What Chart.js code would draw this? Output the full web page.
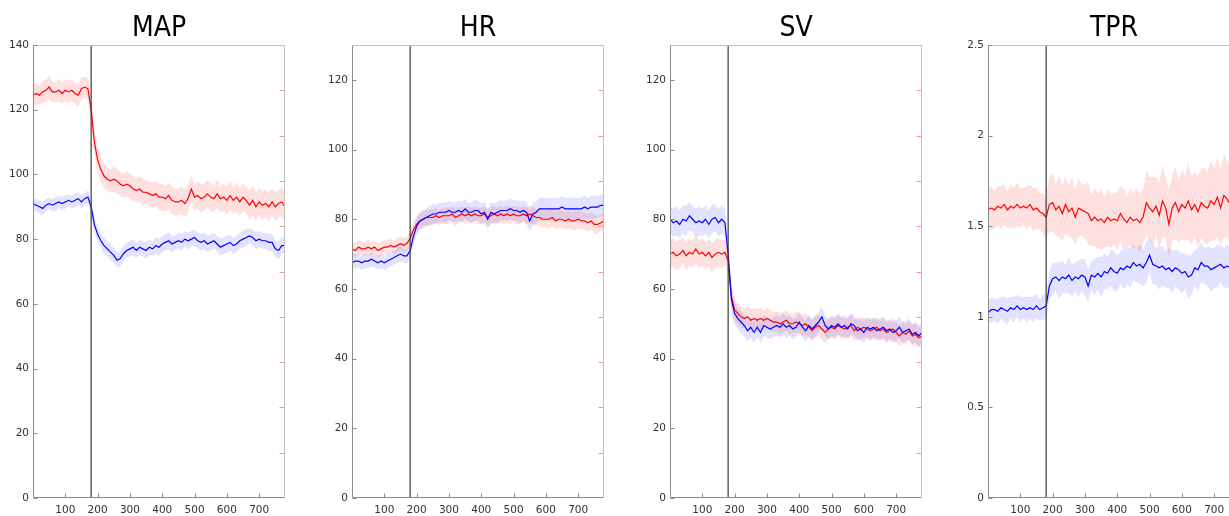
<!DOCTYPE html>
<html>
<head>
<meta charset="utf-8">
<script src="https://cdn.jsdelivr.net/npm/chart.js@4.4.1/dist/chart.umd.min.js"></script>
<style>
html, body { margin:0; padding:0; background:#fff; overflow:hidden; width:1229px; height:516px; position:relative; }
canvas { position:absolute; top:0; }
</style>
</head>
<body>
<canvas id="chartMAP" width="300" height="516" style="left:0px"></canvas>
<canvas id="chartHR" width="300" height="516" style="left:319px"></canvas>
<canvas id="chartSV" width="300" height="516" style="left:637px"></canvas>
<canvas id="chartTPR" width="300" height="516" style="left:955px"></canvas>
<script>
// time axis (s), one sample every 10
const time = [
  0,10,20,30,40,50,60,70,80,90,
  100,110,120,130,140,150,160,170,180,190,
  200,210,220,230,240,250,260,270,280,290,
  300,310,320,330,340,350,360,370,380,390,
  400,410,420,430,440,450,460,470,480,490,
  500,510,520,530,540,550,560,570,580,590,
  600,610,620,630,640,650,660,670,680,690,
  700,710,720,730,740,750,760,770,780
];
const stimTime = 180;
const xRange = [0, 780];
const xTicks = [100,200,300,400,500,600,700];

// MAP
const mapRed = [
  124.5,125,124.5,125.5,126,127,125.5,125.5,126,125,
  126,125.5,126,125,124.5,126.5,127,126.5,120,110,
  104.5,101.5,99.5,98.5,98,98.5,98,97,96.5,97,
  96.5,95.5,95,95.5,94.5,94.5,94,93.5,94,93,
  93,92.5,93.5,92,91.5,91.5,92,91,92.5,95.5,
  93,93.5,92.5,93,94,93,92.5,94,92.5,93,
  92,93.5,92,93,91.5,93,92,90.5,92,90,
  91.5,90.5,91,90,91.5,90,91,91.5,90
];
const mapRedSd = [
  3.2,3.4,3.0,3.3,3.5,3.6,3.2,3.1,3.4,3.3,
  3.2,3.5,3.4,3.3,3.6,3.5,3.3,3.4,3.8,4.0,
  3.9,3.7,3.8,3.6,3.7,3.9,3.8,3.6,3.7,3.9,
  4.0,3.8,3.7,3.9,4.1,3.8,3.9,4.0,3.8,4.1,
  4.2,3.9,4.0,4.3,4.1,4.0,4.4,4.2,4.5,4.1,
  4.0,4.2,4.3,4.1,4.2,4.4,4.0,4.3,4.1,4.2,
  4.4,4.3,4.1,4.5,4.2,4.3,4.1,4.4,4.6,4.3,
  4.2,4.5,4.3,4.4,4.2,4.5,4.3,4.4,4.5
];
const mapBlue = [
  91,90.5,90,89.5,90.5,91,90.5,91,91.5,91,
  91.5,92,91.5,92,92.5,91.5,92.5,93,90,84.5,
  81.5,79.5,78,77,76,75,73.5,74,75.5,76.5,
  77,77.5,76.5,77.5,77,76.5,77.5,77,78,77.5,
  78.5,79,79.5,78.5,79,79.5,79,80,79.5,80,
  80.5,79.5,79,79.5,78.5,79,79.5,78.5,77.5,78,
  78.5,79,78,78.5,79.5,80,80.5,81,80.5,79.5,
  80,79.5,79.5,79,79,77,76.5,78,78
];
const mapBlueSd = [
  1.8,2.0,1.9,2.1,2.0,1.8,2.0,2.2,1.9,2.0,
  2.1,1.9,2.0,2.2,2.0,2.1,1.9,2.0,2.3,2.4,
  2.3,2.2,2.4,2.3,2.5,2.4,2.3,2.5,2.4,2.2,
  2.4,2.6,2.3,2.5,2.4,2.6,2.5,2.3,2.4,2.6,
  2.5,2.4,2.6,2.5,2.3,2.5,2.7,2.4,2.6,2.5,
  2.4,2.6,2.5,2.7,2.4,2.6,2.5,2.4,2.6,2.5,
  2.7,2.5,2.4,2.6,2.5,2.7,2.6,2.4,2.5,2.7,
  2.6,2.4,2.5,2.7,2.6,2.5,2.7,2.6,2.5
];

// HR
const hrRed = [
  71.5,71,72,71.5,71.5,72,71.5,72,71,71.5,
  72,72,72.5,72,72.5,73,72.5,73,74.5,77,
  78.5,79.5,80,80.5,80.5,80.5,81,80.5,81,81,
  81,81.5,80.5,81,81.5,81,81.5,81,81.5,81,
  81,81.5,80.5,81,81.5,81,81.5,81,81.5,81,
  81.5,81,81,81.5,81,81.5,81,80.5,80.5,80,
  80,80,80.5,79.5,80,80,79.5,80,79.5,79.5,
  80,79.5,79.5,79,79.5,78.5,78.5,79,79.5
];
const hrRedSd = [
  1.9,2.0,2.1,1.9,2.0,2.2,2.0,1.9,2.1,2.0,
  2.0,2.1,1.9,2.0,2.2,2.0,2.1,2.0,2.2,2.3,
  2.2,2.3,2.1,2.2,2.4,2.2,2.3,2.1,2.2,2.4,
  2.3,2.2,2.4,2.3,2.1,2.2,2.4,2.3,2.2,2.3,
  2.4,2.2,2.3,2.5,2.3,2.2,2.4,2.3,2.5,2.4,
  2.3,2.5,2.4,2.3,2.5,2.4,2.6,2.4,2.5,2.3,
  2.4,2.6,2.5,2.4,2.6,2.5,2.4,2.6,2.5,2.7,
  2.5,2.6,2.4,2.6,2.5,2.7,2.6,2.5,2.6
];
const hrBlue = [
  67.5,68,68,67.5,68,68,68.5,68,67.5,68,
  67.5,68,68.5,69,69.5,70,69.5,69.5,71,75,
  78,79.5,80,80.5,81,81.5,81.5,82,82,82,
  82.5,82,82,82.5,82,83,82,82,82.5,82.5,
  81.5,82,80,82,81.5,82,82.5,82.5,82.5,83,
  82.5,82.5,82,82.5,82,79.5,81.5,82,83,83,
  83,83,83,83,83,83.5,83,83,83,83,
  83,83,83.5,83,83.5,83.5,83.5,84,84
];
const hrBlueSd = [
  2.0,2.1,1.9,2.0,2.2,2.0,2.1,1.9,2.0,2.1,
  2.0,2.2,2.1,2.0,2.1,2.2,2.0,2.1,2.3,2.5,
  2.6,2.5,2.7,2.6,2.8,2.7,2.6,2.8,2.7,2.9,
  2.8,2.7,2.9,2.8,3.0,2.8,2.7,2.9,3.0,2.8,
  2.9,3.1,2.8,3.0,2.9,3.1,3.0,2.8,3.0,3.1,
  2.9,3.0,3.2,2.9,3.1,3.0,3.2,3.0,3.1,3.3,
  3.1,3.0,3.2,3.1,3.3,3.0,3.2,3.1,3.3,3.2,
  3.0,3.2,3.3,3.1,3.2,3.4,3.1,3.3,3.2
];

// SV
const svRed = [
  70,70.5,69.5,70,71,69.5,70.5,70,71.5,70,
  70.5,69.5,70.5,69,70,70.5,70,70.5,68,58,
  54,53,52,51.5,52,51,51.5,51,51.5,51,
  51.5,51,50.5,50.5,50,50.5,51,50,50,50.5,
  50,49.5,50,49,48,49,49.5,48.5,47.5,48.5,
  49,48.5,49.5,49,48.5,49,49.5,48,49,48.5,
  49,48.5,48,48.5,49,48,48.5,47.5,48,48.5,
  47.5,46.5,47.5,47,48,46.5,47,46,46.5
];
const svRedSd = [
  3.9,4.1,4.0,4.2,3.8,4.0,4.1,3.9,4.2,4.0,
  4.1,3.9,4.0,4.2,3.9,4.1,4.0,3.8,3.6,3.4,
  3.2,3.0,3.1,2.9,3.0,3.2,2.9,3.1,3.0,2.8,
  3.0,3.1,2.9,3.0,3.2,2.9,3.0,3.1,2.8,3.0,
  2.9,3.1,3.0,2.8,3.0,3.1,2.9,3.0,3.2,2.9,
  3.0,2.9,3.1,3.0,2.8,3.0,3.1,2.9,3.0,3.1,
  2.9,3.0,3.1,2.9,3.0,2.8,3.1,3.0,2.9,3.1,
  3.0,2.9,3.1,3.0,2.8,3.1,3.0,2.9,3.0
];
const svBlue = [
  80,79,79.5,78.5,80,79.5,81,80,79,79.5,
  79,80,78.5,80,80.5,79,80,79,70,57,
  53,51.5,50.5,49.5,48,49,47.5,49,47.5,49.5,
  49,48.5,49,49.5,49,50,49,49.5,48.5,49,
  50.5,49,48,49.5,48.5,49.5,50.5,52,49.5,48.5,
  49.5,49,50,49,49.5,48.5,50,49.5,48,48.5,
  47.5,49,48.5,49,48,48.5,49,48,48.5,47.5,
  48,49,47.5,48,48.5,47,47.5,46.5,47.5
];
const svBlueSd = [
  3.8,4.0,4.2,3.9,4.1,4.3,4.0,3.8,4.1,4.2,
  3.9,4.1,4.0,4.2,3.8,4.0,4.1,3.9,3.8,3.5,
  3.3,3.1,3.0,3.2,2.9,3.1,3.0,2.8,3.0,3.1,
  2.9,3.0,2.8,3.1,2.9,3.0,3.2,2.9,3.0,2.8,
  3.1,2.9,3.0,3.2,2.9,3.1,3.0,2.8,3.0,3.1,
  2.9,3.0,3.1,2.8,3.0,2.9,3.1,3.0,2.8,3.0,
  3.1,2.9,3.0,2.8,3.0,3.1,2.9,3.0,2.8,3.0,
  2.9,3.1,3.0,2.8,3.0,2.9,3.1,3.0,2.9
];

// TPR
const tprRed = [
  1.59,1.6,1.59,1.61,1.6,1.62,1.59,1.61,1.6,1.62,
  1.6,1.61,1.6,1.62,1.59,1.6,1.58,1.57,1.55,1.62,
  1.63,1.59,1.61,1.57,1.62,1.58,1.6,1.55,1.6,1.59,
  1.58,1.57,1.53,1.55,1.53,1.54,1.52,1.55,1.53,1.54,
  1.53,1.57,1.54,1.52,1.55,1.53,1.54,1.52,1.55,1.63,
  1.6,1.58,1.61,1.56,1.64,1.6,1.51,1.6,1.63,1.58,
  1.62,1.6,1.64,1.59,1.62,1.58,1.63,1.61,1.6,1.64,
  1.62,1.66,1.6,1.67,1.65,1.62,1.64,1.61,1.63
];
const tprRedSd = [
  0.11,0.12,0.10,0.11,0.12,0.11,0.10,0.12,0.11,0.12,
  0.11,0.10,0.12,0.11,0.12,0.11,0.10,0.11,0.12,0.15,
  0.16,0.14,0.17,0.15,0.16,0.14,0.17,0.15,0.16,0.14,
  0.15,0.17,0.14,0.16,0.15,0.17,0.14,0.16,0.15,0.14,
  0.16,0.15,0.17,0.14,0.16,0.15,0.17,0.16,0.15,0.18,
  0.17,0.19,0.16,0.18,0.20,0.17,0.19,0.18,0.20,0.17,
  0.19,0.18,0.21,0.19,0.18,0.20,0.19,0.21,0.20,0.22,
  0.20,0.22,0.21,0.23,0.21,0.22,0.23,0.21,0.22
];
const tprBlue = [
  1.02,1.04,1.04,1.03,1.05,1.04,1.03,1.05,1.04,1.06,
  1.04,1.05,1.04,1.05,1.04,1.06,1.04,1.05,1.06,1.17,
  1.21,1.22,1.2,1.22,1.21,1.23,1.2,1.22,1.21,1.23,
  1.22,1.17,1.23,1.22,1.24,1.22,1.25,1.24,1.27,1.25,
  1.24,1.27,1.26,1.28,1.27,1.3,1.28,1.29,1.27,1.3,
  1.34,1.29,1.28,1.27,1.28,1.26,1.27,1.25,1.27,1.26,
  1.24,1.25,1.22,1.23,1.27,1.26,1.3,1.28,1.28,1.26,
  1.27,1.28,1.29,1.27,1.28,1.27,1.28,1.27,1.28
];
const tprBlueSd = [
  0.06,0.07,0.06,0.07,0.06,0.07,0.07,0.06,0.07,0.06,
  0.07,0.06,0.07,0.06,0.07,0.07,0.06,0.07,0.07,0.08,
  0.09,0.08,0.10,0.09,0.08,0.10,0.09,0.08,0.10,0.09,
  0.10,0.09,0.08,0.10,0.09,0.11,0.10,0.09,0.10,0.11,
  0.10,0.09,0.11,0.10,0.11,0.10,0.09,0.11,0.10,0.11,
  0.10,0.11,0.10,0.12,0.11,0.10,0.11,0.12,0.10,0.11,
  0.11,0.10,0.12,0.11,0.10,0.12,0.11,0.10,0.11,0.12,
  0.11,0.12,0.10,0.11,0.12,0.11,0.10,0.12,0.11
];

const mapTicks = [0,20,40,60,80,100,120,140];
const hrTicks = [0,20,40,60,80,100,120];
const svTicks = [0,20,40,60,80,100,120];
const tprTicks = [0,0.5,1,1.5,2,2.5];

const titleFont = "'Liberation Sans Narrow', 'DejaVu Sans Condensed', 'Liberation Sans', sans-serif";
const tickFont = "'DejaVu Sans', sans-serif";
const tickColor = '#333333';

// frame, inward ticks and the red right-hand ticks
const framePlugin = {
  id: 'frame',
  afterDraw(chart) {
    const ctx = chart.ctx;
    const a = chart.chartArea;
    const sx = chart.scales.x, sy = chart.scales.y, sr = chart.scales.y2;
    const L = Math.round(a.left) + 0.5, R = Math.round(a.right) - 0.5;
    const T = Math.round(a.top) + 0.5, B = Math.round(a.bottom) - 0.5;
    ctx.save();
    ctx.lineWidth = 1;

    ctx.strokeStyle = '#f29a9a';
    ctx.beginPath();
    sr.ticks.forEach(t => {
      if (t.value <= 0.001 || t.value >= 0.999) return;
      const py = Math.round(sr.getPixelForValue(t.value)) + 0.5;
      ctx.moveTo(R, py); ctx.lineTo(R - 5, py);
    });
    ctx.stroke();

    ctx.strokeStyle = '#c0c0c0';
    ctx.beginPath();
    ctx.moveTo(L, T); ctx.lineTo(R, T); ctx.lineTo(R, B);
    ctx.stroke();

    ctx.strokeStyle = '#8a8a8a';
    ctx.beginPath();
    ctx.moveTo(L, T); ctx.lineTo(L, B); ctx.lineTo(R, B);
    sx.ticks.forEach(t => {
      const px = Math.round(sx.getPixelForValue(t.value)) + 0.5;
      ctx.moveTo(px, B); ctx.lineTo(px, B - 4);
    });
    sy.ticks.forEach(t => {
      const py = Math.round(sy.getPixelForValue(t.value)) + 0.5;
      ctx.moveTo(L, py); ctx.lineTo(L + 4, py);
    });
    ctx.stroke();
    ctx.restore();
  }
};

function points(vals, sd, sign) {
  return vals.map((v, i) => ({x: time[i], y: v + sign * sd[i]}));
}

function makePanel(id, title, red, redSd, blue, blueSd, yMax, yTicks) {
  const clear = 'rgba(0,0,0,0)';
  const datasets = [
    {data: points(red, redSd, 1), fill: '+1', backgroundColor: 'rgba(255,0,0,0.12)', borderColor: clear, borderWidth: 0, pointRadius: 0, order: 4},
    {data: points(red, redSd, -1), fill: false, borderColor: clear, borderWidth: 0, pointRadius: 0, order: 4},
    {data: points(blue, blueSd, 1), fill: '+1', backgroundColor: 'rgba(0,0,255,0.11)', borderColor: clear, borderWidth: 0, pointRadius: 0, order: 3},
    {data: points(blue, blueSd, -1), fill: false, borderColor: clear, borderWidth: 0, pointRadius: 0, order: 3},
    {data: points(red, redSd, 0), fill: false, borderColor: '#ff0000', borderWidth: 1.2, pointRadius: 0, order: 2},
    {data: points(blue, blueSd, 0), fill: false, borderColor: '#0000ff', borderWidth: 1.2, pointRadius: 0, order: 1},
    {data: [{x: stimTime, y: 0}, {x: stimTime, y: yMax}], fill: false, borderColor: '#3a3a3a', borderWidth: 1.2, pointRadius: 0, order: 0}
  ];

  return new Chart(id, {
    type: 'line',
    data: {datasets},
    options: {
      responsive: false,
      animation: false,
      devicePixelRatio: 1,
      layout: {padding: {top: 0, right: 15, left: 0, bottom: 0}},
      plugins: {
        legend: {display: false},
        tooltip: {enabled: false},
        title: {
          display: true,
          text: title,
          color: '#000',
          fullSize: false,
          font: {family: titleFont, size: 28, weight: 'normal', lineHeight: 1},
          padding: {top: 15, bottom: 2}
        }
      },
      scales: {
        x: {
          type: 'linear',
          min: xRange[0],
          max: xRange[1],
          grid: {display: false, drawTicks: false},
          border: {display: false},
          afterBuildTicks: ax => { ax.ticks = xTicks.map(v => ({value: v})); },
          afterFit: ax => { ax.height = 18; },
          ticks: {padding: 6, color: tickColor, font: {family: tickFont, size: 10.5}, maxRotation: 0, autoSkip: false, callback: v => String(v)}
        },
        y: {
          position: 'left',
          min: 0,
          max: yMax,
          grid: {display: false, drawTicks: false},
          border: {display: false},
          afterBuildTicks: ax => { ax.ticks = yTicks.map(v => ({value: v})); },
          afterFit: ax => { ax.width = 33; },
          ticks: {padding: 4, color: tickColor, font: {family: tickFont, size: 10.5}, autoSkip: false, callback: v => String(v)}
        },
        y2: {
          position: 'right',
          min: 0,
          max: 1,
          grid: {display: false, drawTicks: false},
          border: {display: false},
          ticks: {display: false, stepSize: 0.1},
          afterFit: ax => { ax.width = 0; }
        }
      }
    },
    plugins: [framePlugin]
  });
}

makePanel('chartMAP', 'MAP', mapRed, mapRedSd, mapBlue, mapBlueSd, 140, mapTicks);
makePanel('chartHR', 'HR', hrRed, hrRedSd, hrBlue, hrBlueSd, 130, hrTicks);
makePanel('chartSV', 'SV', svRed, svRedSd, svBlue, svBlueSd, 130, svTicks);
makePanel('chartTPR', 'TPR', tprRed, tprRedSd, tprBlue, tprBlueSd, 2.5, tprTicks);
</script>
</body>
</html>
